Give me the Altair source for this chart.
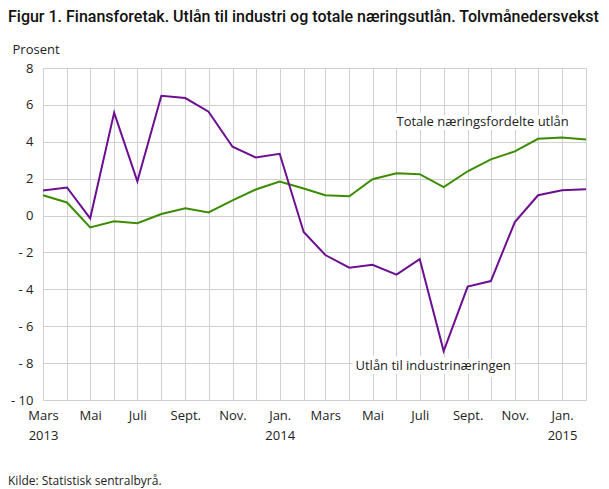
import altair as alt
import pandas as pd

months = ["2013-03-01","2013-04-01","2013-05-01","2013-06-01","2013-07-01","2013-08-01",
          "2013-09-01","2013-10-01","2013-11-01","2013-12-01","2014-01-01","2014-02-01",
          "2014-03-01","2014-04-01","2014-05-01","2014-06-01","2014-07-01","2014-08-01",
          "2014-09-01","2014-10-01","2014-11-01","2014-12-01","2015-01-01","2015-02-01"]
industri = [1.36,1.52,-0.15,5.58,1.86,6.49,6.37,5.63,3.73,3.15,3.35,-0.89,
            -2.14,-2.83,-2.67,-3.2,-2.36,-7.35,-3.85,-3.55,-0.35,1.1,1.37,1.43]
totale = [1.1,0.71,-0.64,-0.31,-0.42,0.08,0.39,0.17,0.82,1.41,1.84,1.47,
          1.1,1.05,1.97,2.29,2.24,1.54,2.4,3.05,3.48,4.16,4.23,4.12]
series_names = ["Totale næringsfordelte  utlån", "Utlån til industrinæringen"]
series_colors = ["#3c8c00", "#6c0f90"]
label_dates = ["2014-06-01", "2014-04-09"]
label_values = [5.08, -8.14]
y_ticks = [-10, -8, -6, -4, -2, 0, 2, 4, 6, 8]
title_text = "Figur 1. Finansforetak. Utlån til industri og totale næringsutlån. Tolvmånedersvekst"
source_text = "Kilde: Statistisk sentralbyrå."

FONT = "Open Sans"

df = pd.DataFrame({
    "maaned": months * 2,
    "verdi": totale + industri,
    "serie": [series_names[0]] * len(months) + [series_names[1]] * len(months),
})
lab = pd.DataFrame({"maaned": label_dates, "verdi": label_values, "tekst": series_names})

xscale = alt.Scale(type="utc", domain=[months[0], months[-1]], nice=False)
yscale = alt.Scale(domain=[-10, 8], nice=False)

names = "['Jan.','Feb.','Mars','April','Mai','Juni','Juli','Aug.','Sept.','Okt.','Nov.','Des.']"
lab_expr = (f"utcmonth(datum.value) % 2 == 0 ? ((utcmonth(datum.value) == 0 || datum.index == 0) ? "
            f"[{names}[utcmonth(datum.value)], '' + utcyear(datum.value)] : {names}[utcmonth(datum.value)]) : ''")

x_axis = alt.Axis(
    values=[alt.DateTime(year=int(m[:4]), month=int(m[5:7]), date=1, utc=True) for m in months],
    labelExpr=lab_expr, title=None, grid=True, ticks=False, domain=True,
    domainColor="#d0d0d0", gridColor="#d0d0d0", labelOverlap=False,
    labelPadding=9, labelLineHeight=20, labelFontSize=13, labelFont=FONT,
    labelColor="#222222", labelBaseline="top", labelFlush=False,
)
y_axis = alt.Axis(
    values=y_ticks, grid=True, ticks=False, domain=False, gridColor="#d0d0d0",
    labelExpr="datum.value < 0 ? '-  ' + abs(datum.value) : '' + datum.value",
    labelOverlap=False, labelFlush=False,
    labelPadding=10, labelFontSize=13, labelFont=FONT, labelColor="#222222",
    title="Prosent", titleAngle=0, titleX=-31, titleY=-19, titleAlign="left",
    titleBaseline="middle", titleFont=FONT, titleFontSize=13, titleFontWeight="normal",
    titleColor="#222222",
)

X = alt.X("maaned:T", scale=xscale, axis=x_axis)
Y = alt.Y("verdi:Q", scale=yscale, axis=y_axis)

lines = alt.Chart(df).mark_line(strokeWidth=2).encode(
    x=X, y=Y,
    color=alt.Color("serie:N", scale=alt.Scale(domain=series_names, range=series_colors), legend=None),
    order=alt.Order("maaned:T"),
)

halo = alt.Chart(lab).mark_text(align="left", baseline="middle", font=FONT, fontSize=13,
                               stroke="white", strokeWidth=8, color="white").encode(
    x=X, y=Y, text="tekst:N")
texts = alt.Chart(lab).mark_text(align="left", baseline="middle", font=FONT, fontSize=13,
                                color="#222222").encode(
    x=X, y=Y, text="tekst:N")

kilde = alt.Chart(pd.DataFrame({"t": [source_text]})).mark_text(
    align="left", baseline="middle", font=FONT, fontSize=12, color="#222222").encode(
    x=alt.value(-35), y=alt.value(413), text="t:N")

tittel = alt.Chart(pd.DataFrame({"t": [title_text]})).mark_text(
    align="left", baseline="middle", font="Roboto", fontSize=16, fontWeight=500,
    color="#111111").encode(
    x=alt.value(-35), y=alt.value(-51), text="t:N")

chart = alt.layer(lines, halo, texts, kilde, tittel).properties(
    width=543, height=332,
    autosize=alt.AutoSizeParams(type="none"),
    padding={"left": 35, "top": 60, "right": 15, "bottom": 90},
).configure_view(stroke=None)

chart.save("out.html", embed_options={"renderer": "svg", "actions": False})
